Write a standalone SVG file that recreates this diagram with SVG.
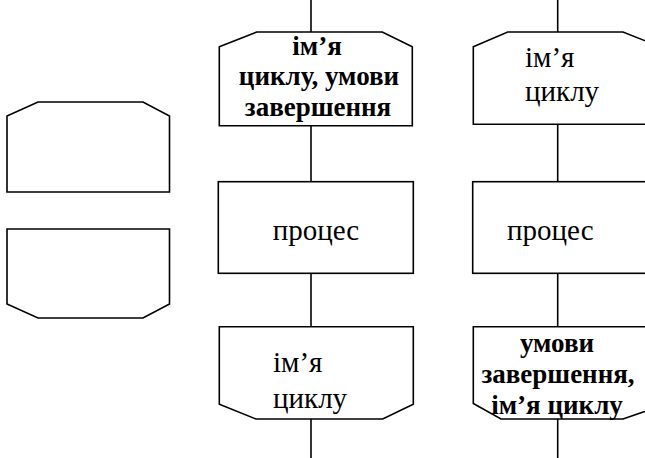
<svg xmlns="http://www.w3.org/2000/svg" width="645" height="458" viewBox="0 0 645 458">
<style>
.s{fill:#fff;stroke:#000;stroke-width:1.6;stroke-linejoin:miter}
.c{stroke:#000;stroke-width:1.6;fill:none}
text{font-family:'Liberation Serif','Times New Roman',Tinos,'DejaVu Serif',serif;fill:#000}
.r{font-size:29px}
.b{font-size:27px;font-weight:bold;text-anchor:middle}
</style>
<rect width="645" height="458" fill="#fff"/>
<g id="connectors">
<line class="c" x1="311" y1="0" x2="311" y2="32"/>
<line class="c" x1="311" y1="126" x2="311" y2="182"/>
<line class="c" x1="311" y1="273" x2="311" y2="327"/>
<line class="c" x1="311" y1="419" x2="311" y2="458"/>
<line class="c" x1="557.7" y1="0" x2="557.7" y2="32"/>
<line class="c" x1="557.7" y1="124" x2="557.7" y2="182"/>
<line class="c" x1="557.7" y1="273" x2="557.7" y2="327"/>
<line class="c" x1="557.7" y1="419" x2="557.7" y2="458"/>
</g>
<g id="legend-loop-start">
<polygon class="s" points="7,116 38,102 143,102 169.5,116 169.5,192 7,192"/>
</g>
<g id="legend-loop-end">
<polygon class="s" points="7,229 169.5,229 169.5,304 143,318 38,318 7,304"/>
</g>
<g id="loop-start-1">
<polygon class="s" points="219.3,46.7 256.7,32 382.3,32 412.3,46.7 412.3,125.7 219.3,125.7"/>
<text class="b" x="317" y="55">ім’я</text>
<text class="b" x="319" y="85">циклу, умови</text>
<text class="b" x="318" y="116">завершення</text>
</g>
<g id="process-1">
<rect class="s" x="218.3" y="181.7" width="195" height="91.6"/>
<text class="r" x="272.7" y="240">процес</text>
</g>
<g id="loop-end-1">
<polygon class="s" points="219.3,326.7 413.3,326.7 413.3,404.3 382.7,419 256,419 219.3,404.3"/>
<text class="r" x="273" y="372">ім’я</text>
<text class="r" x="273" y="408">циклу</text>
</g>
<g id="loop-start-2">
<polygon class="s" points="473.3,46.7 507.7,32 623,32 660,46.7 660,124.3 473.3,124.3"/>
<text class="r" x="525" y="67">ім’я</text>
<text class="r" x="525" y="101">циклу</text>
</g>
<g id="process-2">
<rect class="s" x="472.7" y="181.7" width="195" height="91.6"/>
<text class="r" x="507" y="240">процес</text>
</g>
<g id="loop-end-2">
<polygon class="s" points="473.3,326.7 666,326.7 666,404 623,419 501,419 473.3,403.5"/>
<text class="b" x="557" y="352">умови</text>
<text class="b" x="558" y="383">завершення,</text>
<text class="b" x="557" y="414">ім’я циклу</text>
</g>
</svg>
